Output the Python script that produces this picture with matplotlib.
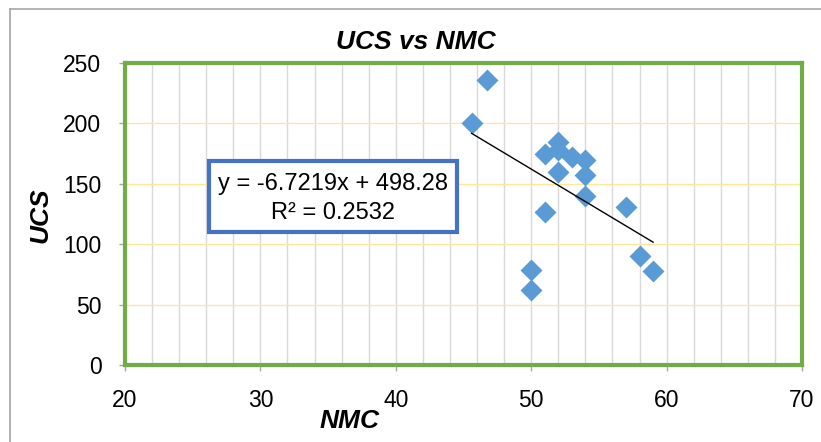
import matplotlib
matplotlib.use("Agg")
import matplotlib.pyplot as plt
from matplotlib.lines import Line2D
from matplotlib.patches import Rectangle
from matplotlib.ticker import MultipleLocator
import numpy as np

plt.rcParams["font.family"] = ["Liberation Sans", "DejaVu Sans"]

W, H = 821, 442

GREEN = "#70AD47"
BLUE = "#5B9BD5"
BOX_BLUE = "#4472C4"
GRID_GREY = "#D9D9D9"
GRID_YELLOW = "#FFE699"
AXIS_GREY = "#A6A6A6"

# NMC / UCS samples
nmc = [45.6, 46.7, 51.0, 52.0, 52.0, 53.0, 54.0, 52.0, 54.0, 54.0, 57.0, 51.0, 58.0, 59.0, 50.0, 50.0]
ucs = [200, 236, 175, 185, 178, 172, 170, 160, 157, 140, 131, 127, 90, 78, 79, 62]

# linear trend reported on the chart
slope = -6.7219
intercept = 498.28
r_squared = 0.2532

x_ticks = [20, 30, 40, 50, 60, 70]
y_ticks = [0, 50, 100, 150, 200, 250]


def fx(px):
    return px / W


def fy(py):
    return 1 - py / H


fig = plt.figure(figsize=(W / 100, H / 100), dpi=100, facecolor="white")
ax = fig.add_axes([fx(125), fy(365), 677 / W, 302 / H])

# chart area outline (left and top edges only fall inside the image)
fig.add_artist(Line2D([fx(10), fx(10)], [0, fy(9)], color=AXIS_GREY, linewidth=1.2))
fig.add_artist(Line2D([fx(10), 1], [fy(9), fy(9)], color=AXIS_GREY, linewidth=1.2))

ax.set_xlim(20, 70)
ax.set_ylim(0, 250)
ax.set_xticks(x_ticks)
ax.set_yticks(y_ticks)
ax.xaxis.set_minor_locator(MultipleLocator(2))

ax.set_axisbelow(True)
ax.grid(which="both", axis="x", color=GRID_GREY, linewidth=1.0)
ax.grid(which="major", axis="y", color=GRID_YELLOW, linewidth=1.0)

ax.tick_params(axis="both", which="major", direction="out", length=4, width=1,
               color=AXIS_GREY, labelsize=16.5, pad=13)
ax.tick_params(axis="x", which="minor", length=0)

for side in ax.spines:
    ax.spines[side].set_color(GREEN)
    ax.spines[side].set_linewidth(3.0)

ax.scatter(nmc, ucs, marker="D", s=125, color=BLUE, linewidths=0, zorder=3)

xs = np.array([min(nmc), max(nmc)])
ax.plot(xs, slope * xs + intercept, color="black", linewidth=1.0, zorder=4)

# trend equation label
fig.add_artist(Rectangle((fx(209), fy(232)), 248 / W, 71 / H, transform=fig.transFigure,
                         facecolor="white", edgecolor=BOX_BLUE, linewidth=3.0, zorder=5))
fig.text(fx(333), fy(184), f"y = {slope}x + {intercept}", ha="center", va="center",
         fontsize=17, zorder=6)
fig.text(fx(333), fy(213), f"R² = {r_squared}", ha="center", va="center",
         fontsize=17, zorder=6)

fig.text(fx(416), fy(42), "UCS vs NMC", ha="center", va="center",
         fontsize=19, fontweight="bold", fontstyle="italic")
fig.text(fx(40), fy(215), "UCS", ha="center", va="center", rotation=90,
         fontsize=19, fontweight="bold", fontstyle="italic")
fig.text(fx(350), fy(421), "NMC", ha="center", va="center",
         fontsize=19, fontweight="bold", fontstyle="italic")

fig.savefig("out.png", dpi=100, facecolor="white")
